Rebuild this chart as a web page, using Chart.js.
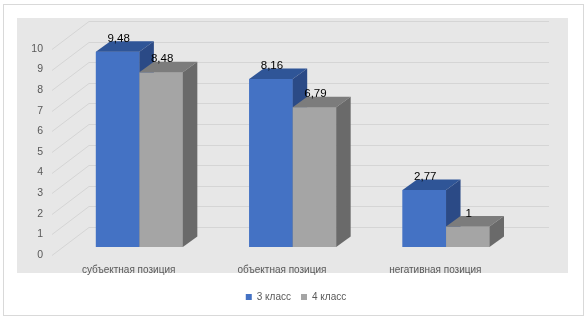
<!DOCTYPE html>
<html>
<head>
<meta charset="utf-8">
<script src="https://cdn.jsdelivr.net/npm/chart.js@4.4.1/dist/chart.umd.min.js"></script>
<style>
  html, body { margin: 0; padding: 0; background: #ffffff; }
  #wrap { width: 588px; height: 321px; position: relative; }
</style>
</head>
<body>
<div id="wrap"><canvas id="chart"></canvas></div>
<script>
var categories = ['субъектная позиция', 'объектная позиция', 'негативная позиция'];
var grade3 = [9.48, 8.16, 2.77];
var grade4 = [8.48, 6.79, 1];
var seriesNames = ['3 класс', '4 класс'];

// oblique depth of the 3D look
var wallDx = 26.3, wallDy = -20;   // bar plane -> back wall
var frontDx = -10.7, frontDy = 8;  // bar plane -> front edge of floor
var barDx = 14.5, barDy = -10.5;   // bar depth

var faces = [
    { front: '#4472C4', top: '#2F5597', side: '#2B4A86' },
    { front: '#A5A5A5', top: '#7C7C7C', side: '#6A6A6A' }
];

function fmt(v) {
    return String(v).replace('.', ',');
}

var backgroundPlugin = {
    id: 'excel3d',
    beforeDraw: function(chart) {
        var ctx = chart.ctx;
        ctx.save();
        ctx.fillStyle = '#ffffff';
        ctx.fillRect(0, 0, chart.width, chart.height);
        ctx.strokeStyle = '#D9D9D9';
        ctx.lineWidth = 1;
        ctx.strokeRect(3.5, 4.5, 580, 311);
        ctx.fillStyle = '#E7E7E7';
        ctx.fillRect(17, 18, 551, 255);
        ctx.restore();
    },
    beforeDatasetsDraw: function(chart) {
        var ctx = chart.ctx;
        var area = chart.chartArea;
        var y = chart.scales.y;
        ctx.save();
        ctx.strokeStyle = '#D5D5D5';
        ctx.lineWidth = 1;
        y.ticks.forEach(function(t) {
            var py = Math.round(y.getPixelForValue(t.value)) + 0.5;
            ctx.beginPath();
            ctx.moveTo(area.left + wallDx, py + wallDy);
            ctx.lineTo(area.right + wallDx, py + wallDy);
            ctx.stroke();
            ctx.beginPath();
            ctx.moveTo(area.left + frontDx, py + frontDy);
            ctx.lineTo(area.left + wallDx, py + wallDy);
            ctx.stroke();
        });
        ctx.restore();
    },
    afterDatasetsDraw: function(chart) {
        var ctx = chart.ctx;
        var metas = [chart.getDatasetMeta(0), chart.getDatasetMeta(1)];
        ctx.save();
        for (var i = 0; i < categories.length; i++) {
            for (var d = 0; d < 2; d++) {
                var bar = metas[d].data[i];
                var l = bar.x - bar.width / 2, r = bar.x + bar.width / 2;
                var t = bar.y, b = bar.base;
                var c = faces[d];
                ctx.fillStyle = c.front;
                ctx.fillRect(l, t, r - l, b - t);
                ctx.fillStyle = c.top;
                ctx.beginPath();
                ctx.moveTo(l, t);
                ctx.lineTo(l + barDx, t + barDy);
                ctx.lineTo(r + barDx, t + barDy);
                ctx.lineTo(r, t);
                ctx.closePath();
                ctx.fill();
                ctx.fillStyle = c.side;
                ctx.beginPath();
                ctx.moveTo(r, t);
                ctx.lineTo(r + barDx, t + barDy);
                ctx.lineTo(r + barDx, b + barDy);
                ctx.lineTo(r, b);
                ctx.closePath();
                ctx.fill();
            }
        }
        ctx.fillStyle = '#000000';
        ctx.font = '11.5px "Liberation Sans", Arial, sans-serif';
        ctx.textAlign = 'center';
        ctx.textBaseline = 'middle';
        for (var d2 = 0; d2 < 2; d2++) {
            var vals = d2 === 0 ? grade3 : grade4;
            metas[d2].data.forEach(function(bar, k) {
                ctx.fillText(fmt(vals[k]), bar.x + 1, bar.y - 13);
            });
        }
        ctx.restore();
    }
};

var chart = new Chart(document.getElementById('chart'), {
    type: 'bar',
    data: {
        labels: categories,
        datasets: [
            {
                label: seriesNames[0],
                data: grade3,
                backgroundColor: faces[0].front,
                borderWidth: 0,
                barPercentage: 1,
                categoryPercentage: 0.567
            },
            {
                label: seriesNames[1],
                data: grade4,
                backgroundColor: faces[1].front,
                borderWidth: 0,
                barPercentage: 1,
                categoryPercentage: 0.567
            }
        ]
    },
    options: {
        animation: false,
        responsive: true,
        maintainAspectRatio: false,
        layout: {
            padding: { left: 17, top: 41, right: 13, bottom: 9 }
        },
        plugins: {
            tooltip: { enabled: false },
            legend: {
                position: 'bottom',
                labels: {
                    boxWidth: 6,
                    boxHeight: 6,
                    padding: 10,
                    color: '#595959',
                    font: { family: '"Liberation Sans", Arial, sans-serif', size: 10 }
                }
            }
        },
        scales: {
            x: {
                grid: { display: false, drawTicks: false },
                border: { display: false },
                ticks: {
                    padding: 17,
                    labelOffset: frontDx,
                    color: '#595959',
                    font: { family: '"Liberation Sans", Arial, sans-serif', size: 10 }
                },
                afterFit: function(scale) { scale.height = 35; }
            },
            y: {
                min: 0,
                max: 10,
                grid: { display: false, drawTicks: false },
                border: { display: false },
                ticks: {
                    stepSize: 1,
                    padding: 19.7,
                    labelOffset: frontDy,
                    color: '#595959',
                    font: { family: '"Liberation Sans", Arial, sans-serif', size: 10.5 }
                },
                afterFit: function(scale) { scale.width = 45.7; }
            },
            // empty right axis: room for the back wall, keeps the legend centred on the page
            yRight: {
                position: 'right',
                min: 0,
                max: 10,
                grid: { display: false, drawTicks: false },
                border: { display: false },
                ticks: { display: false },
                afterFit: function(scale) { scale.width = 52.3; }
            }
        }
    },
    plugins: [backgroundPlugin]
});
</script>
</body>
</html>
